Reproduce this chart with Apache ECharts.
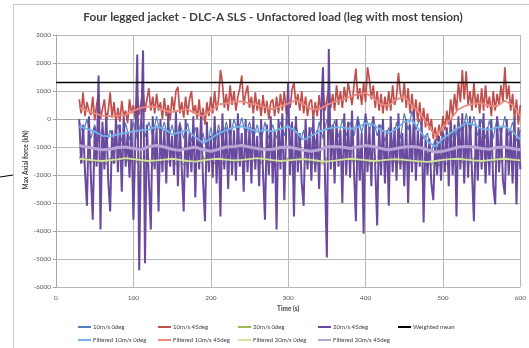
<!DOCTYPE html>
<html><head><meta charset="utf-8">
<script src="https://cdn.jsdelivr.net/npm/echarts@6/dist/echarts.min.js"></script>
<style>html,body{margin:0;padding:0;background:#fff}#c{width:529px;height:348px}</style>
</head><body><div id="c"></div>
<script>
// ---- data ----
const titleText = 'Four legged jacket - DLC-A SLS - Unfactored load (leg with most tension)';
const xTitle = 'Time (s)';
const yTitle = 'Max Axial force (kN)';
const xTicks = [0, 100, 200, 300, 400, 500, 600];
const yTicks = [3000, 2000, 1000, 0, -1000, -2000, -3000, -4000, -5000, -6000];
const denseStart = 30, denseStep = 2.5; // 10m/s 45deg and 20m/s 45deg, every 2.5 s
const rawStart = 30, rawStep = 5;       // 10m/s 0deg and 20m/s 0deg, every 5 s
const filtStart = 30, filtStep = 10;    // filtered series every 10 s
const weightedMean = 1300;
const meanSpan = [0, 600];

const names = ['10m/s 0deg','10m/s 45deg','20m/s 0deg','20m/s 45deg','Weighted mean',
  'Filtered 10m/s 0deg','Filtered 10m/s 45deg','Filtered 20m/s 0deg','Filtered 20m/s 45deg'];

const raw10_0 = [
 -100,-500,0,-700,-200,-800,-300,-900,-400,-800,
 -200,-800,-150,-750,-100,-700,-50,-650,-100,-600,
 100,-600,-100,-800,-200,-900,-100,-700,-150,-800,
 -300,-1000,-500,-1200,-300,-1000,-200,-800,-100,-700,
 0,-500,50,-600,-100,-700,-200,-800,-100,-700,
 -200,-700,-100,-600,0,-500,-200,-900,-400,-1100,
 -300,-900,-100,-700,0,-600,-50,-650,0,-600,
 -100,-600,100,-500,150,-400,50,-600,-200,-800,
 -300,-900,-100,-700,200,-400,300,-400,0,-700,
 -500,-1200,-700,-1300,-400,-1100,-200,-900,-100,-600,
 200,-500,100,-600,0,-700,-50,-700,50,-600,
 100,-600,-100,-800,-400];
const raw10_45 = [
 700,200,950,100,600,300,150,800,-50,500,900,0,350,700,-100,300,950,50,600,-150,
 400,-100,650,100,300,-150,700,200,500,0,850,150,600,1000,250,700,1100,300,800,200,
 900,300,600,0,750,100,500,-50,800,300,1000,1150,200,600,50,800,150,700,1000,200,
 500,0,700,-100,400,-200,600,100,800,200,1000,300,700,1750,1300,400,900,300,1200,500,
 1000,300,800,1100,1550,500,900,1200,400,800,200,950,300,700,100,850,200,650,0,600,
 700,100,800,200,900,300,1000,200,700,400,1050,1300,500,900,300,1000,200,800,100,600,
 700,0,600,100,850,200,1000,300,700,1100,400,900,300,1200,500,1000,400,1150,600,1300,
 900,500,1200,1800,700,1100,500,1300,600,1850,1400,700,1200,400,1000,300,900,200,800,300,
 1000,300,1200,500,800,1650,900,600,1300,400,1100,200,900,100,700,-100,600,-200,400,-300,
 200,-400,0,-700,-300,-800,-200,-600,100,-400,300,-200,700,100,900,300,1300,600,1750,700,
 1700,500,1000,300,1300,400,900,200,1100,300,1200,400,800,100,1000,300,900,500,1200,600,
 1850,700,1200,300,900,0,700,-200,500];
const raw20_0 = [
 -1350,-1550,-1400,-1600,-1380,-1570,-1420,-1620,-1400,-1580,
 -1300,-1550,-1350,-1600,-1380,-1560,-1400,-1620,-1450,-1650,
 -1400,-1600,-1350,-1550,-1380,-1620,-1420,-1650,-1450,-1600,
 -1380,-1580,-1350,-1550,-1400,-1600,-1420,-1620,-1380,-1570,
 -1350,-1550,-1330,-1520,-1300,-1500,-1350,-1580,-1400,-1620,
 -1420,-1640,-1400,-1600,-1380,-1560,-1350,-1550,-1400,-1620,
 -1450,-1660,-1420,-1620,-1380,-1580,-1350,-1540,-1330,-1520,
 -1350,-1560,-1380,-1600,-1420,-1620,-1400,-1580,-1380,-1560,
 -1400,-1600,-1420,-1640,-1450,-1660,-1420,-1620,-1400,-1600,
 -1430,-1650,-1460,-1680,-1420,-1620,-1380,-1580,-1350,-1560,
 -1380,-1580,-1400,-1600,-1420,-1620,-1380,-1570,-1350,-1550,
 -1380,-1590,-1420,-1620,-1450];
const raw20_45 = [
 0,-1600,-200,-1900,-3100,100,-2000,-3600,-300,-1700,1550,-3950,-100,-1800,200,-2200,-3300,-400,-1600,0,
 -1900,-200,-2600,100,-1700,-500,-2100,0,-3600,-800,2300,-5400,-300,2450,-5150,-200,-2200,-3950,100,-1800,
 -300,-3300,0,-1900,-400,-2300,200,-1700,-600,-2000,300,-2400,-200,-1800,-3300,0,-2100,-500,-1900,100,
 -2800,-300,-1800,200,-2200,-3650,-100,-1900,-600,-2100,100,-2300,-400,-3480,200,-1800,-300,-2500,0,-2000,
 -400,-2200,200,-1700,-500,-2600,0,-1900,-300,-2300,100,-1800,-600,-2400,0,-1900,-3600,-200,-2000,100,
 -2300,-400,-3950,0,-1800,200,-2900,-300,1300,-2000,-100,-3480,100,-1900,-500,-2300,-3100,0,-1800,-300,
 -2200,100,-1900,-400,-2500,200,1850,-2000,-4950,2500,-1800,-200,-2300,0,-1700,-400,-3000,200,-2000,-100,
 -2100,300,-1800,-3650,0,-2200,-500,-4100,200,-1900,-300,-2400,100,-1700,-3800,-200,-2000,0,-2300,-400,
 -3100,100,-1900,-300,-2200,200,-1800,-500,-2400,0,-3000,-200,-1900,300,-2200,-400,-1700,-100,-3700,-600,
 -2000,-700,-2300,-2900,-800,-2000,-600,-2200,-500,-1900,-300,-2400,0,-2000,-200,-3480,100,-1800,200,-2300,
 -100,-2100,100,-1900,-3650,-200,-2200,0,-1800,200,-2300,-300,-2000,0,-2400,-3050,100,-1900,-300,-2200,
 -2700,0,-2000,-400,-2300,100,-3050,-300,-1800];
const filt10_0 = [
 -260,-350,-450,-600,-620,-550,-500,-450,-400,-380,
 -260,-350,-550,-480,-400,-650,-860,-700,-520,-400,
 -300,-260,-350,-450,-380,-450,-350,-270,-450,-740,
 -600,-450,-350,-300,-300,-350,-300,-150,-200,-400,
 -500,-350,-100,-50,-400,-800,-980,-700,-500,-300,
 -150,-200,-350,-380,-300,-260,-450,-740];
const filt10_45 = [
 400,300,200,120,100,130,150,300,400,450,
 420,300,250,300,350,200,100,300,520,560,
 620,630,560,500,420,350,450,550,680,520,
 350,350,500,620,690,800,880,930,750,520,
 480,700,800,500,200,-200,-600,-300,0,350,
 480,550,560,480,460,650,500,100];
const filt20_0 = [
 -1420,-1450,-1480,-1500,-1470,-1440,-1400,-1430,-1470,-1500,
 -1480,-1450,-1420,-1460,-1500,-1520,-1480,-1440,-1420,-1450,
 -1480,-1460,-1430,-1400,-1430,-1470,-1500,-1480,-1450,-1430,
 -1460,-1500,-1520,-1490,-1450,-1420,-1440,-1470,-1500,-1480,
 -1450,-1430,-1460,-1490,-1510,-1530,-1500,-1460,-1430,-1420,
 -1450,-1480,-1500,-1470,-1440,-1420,-1450,-1480];
const filt20_45 = [
 -950,-1000,-1050,-1100,-1080,-1020,-1000,-1050,-1100,-980,
 -950,-1000,-1080,-1120,-1050,-1000,-1100,-1150,-1080,-1000,
 -980,-950,-1000,-1050,-1100,-1080,-1020,-1000,-1050,-1120,
 -1150,-1100,-1000,-980,-1000,-1050,-1000,-950,-980,-1050,
 -1100,-1050,-1000,-980,-1020,-1100,-1180,-1150,-1080,-1000,
 -980,-1000,-1050,-1080,-1020,-1000,-1050,-1100];

// ---- build ----
const pairs = (arr, t0, dt) => arr.map((v, i) => [t0 + i * dt, v]);
const colors = ['#4F81BD','#C0504D','#9BBB59','#6A4A9E','#000000','#74B2EA','#EC8A80','#D2E39A','#B7A5D6'];
const chart = echarts.init(document.getElementById('c'), null, {renderer:'canvas'});
const lineSeries = (name, data, color, width) => ({
  name, type:'line', data, showSymbol:false, symbol:'none',
  lineStyle:{color, width}, itemStyle:{color}, animation:false
});
const font = 'Lato, "Liberation Sans", sans-serif';
const legends = names.map((n, i) => {
  const row = i < 5 ? 0 : 1, col = i < 5 ? i : i - 5;
  return {data:[n], left:78 + 80 * col, top: row ? 337 : 324, itemWidth:13, itemHeight:2, icon:'rect',
    padding:0, textStyle:{fontSize:6, color:'#404040', fontFamily:font, padding:[0,0,0,-3]}};
});
chart.setOption({
  animation:false,
  color: colors,
  grid:{left:56, right:4, top:35, bottom:61},
  graphic:[
    {type:'rect', shape:{x:13.5, y:4.5, width:530, height:350}, style:{fill:'none', stroke:'#c8c8c8', lineWidth:1}, silent:true},
    {type:'line', shape:{x1:0, y1:177, x2:13, y2:175}, style:{stroke:'#000', lineWidth:1.2}, silent:true},
    {type:'text', x:273, y:17, style:{text:titleText, fill:'#404040', font:'bold 11.8px '+font, textAlign:'center', textVerticalAlign:'middle'}, silent:true},
    {type:'text', x:26, y:160, rotation:Math.PI/2, style:{text:yTitle, fill:'#404040', font:'bold 6.5px '+font, textAlign:'center', textVerticalAlign:'middle'}, silent:true}
  ],
  xAxis:{type:'value', min:xTicks[0], max:xTicks[xTicks.length-1], interval:100,
    name:xTitle, nameLocation:'middle', nameGap:18,
    nameTextStyle:{fontSize:6.5, color:'#404040', fontWeight:'bold', fontFamily:font},
    axisLine:{show:true, lineStyle:{color:'#a6a6a6'}}, axisTick:{show:false},
    axisLabel:{fontSize:6.5, color:'#595959', fontFamily:font, margin:7, formatter:v => String(v)},
    splitLine:{show:true, lineStyle:{color:'#b8b8b8', width:1}}},
  yAxis:{type:'value', min:yTicks[yTicks.length-1], max:yTicks[0], interval:1000,
    axisLine:{show:true, lineStyle:{color:'#a6a6a6'}}, axisTick:{show:true, length:3, lineStyle:{color:'#a6a6a6'}},
    axisLabel:{fontSize:6.5, color:'#595959', fontFamily:font, margin:5, formatter:v => String(v)},
    splitLine:{show:true, lineStyle:{color:'#b8b8b8', width:1}}},
  legend: legends,
  series:[
    lineSeries(names[0], pairs(raw10_0, rawStart, rawStep), colors[0], 1.2),
    lineSeries(names[1], pairs(raw10_45, denseStart, denseStep), colors[1], 1.7),
    lineSeries(names[2], pairs(raw20_0, rawStart, rawStep), colors[2], 1.6),
    lineSeries(names[3], pairs(raw20_45, denseStart, denseStep), colors[3], 2),
    lineSeries(names[4], [[meanSpan[0], weightedMean],[meanSpan[1], weightedMean]], colors[4], 1.5),
    lineSeries(names[5], pairs(filt10_0, filtStart, filtStep), colors[5], 1.8),
    lineSeries(names[6], pairs(filt10_45, filtStart, filtStep), colors[6], 1.8),
    lineSeries(names[7], pairs(filt20_0, filtStart, filtStep), colors[7], 1.8),
    lineSeries(names[8], pairs(filt20_45, filtStart, filtStep), colors[8], 3)
  ]
});
</script></body></html>
